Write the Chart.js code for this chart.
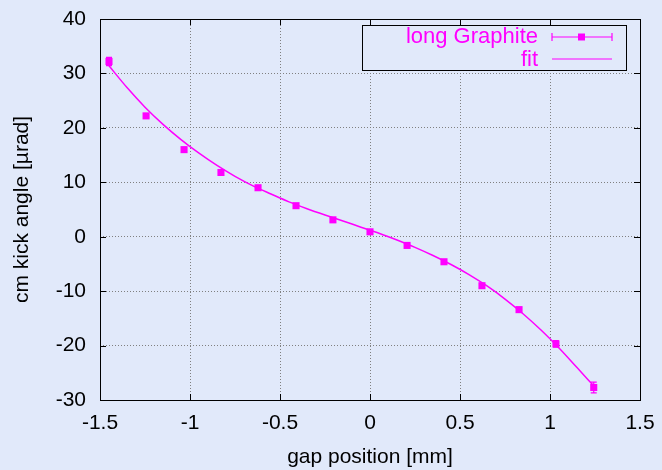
<!DOCTYPE html>
<html>
<head>
<meta charset="utf-8">
<script src="https://cdn.jsdelivr.net/npm/chart.js@4"></script>
<style>
  html, body { margin: 0; padding: 0; background: #e1e9fa; }
  #wrap { width: 662px; height: 470px; }
</style>
</head>
<body>
<div id="wrap"><canvas id="kickChart" width="662" height="470"></canvas></div>
<script>
// measured points: gap position [mm], kick angle [urad], error
const gapPos = [-1.45, -1.244, -1.033, -0.828, -0.622, -0.411, -0.206, 0, 0.206, 0.411, 0.622, 0.828, 1.033, 1.243];
const kickAngle = [32.2, 22.2, 16.0, 11.8, 9.0, 5.7, 3.1, 0.9, -1.6, -4.6, -9.0, -13.4, -19.7, -27.7];
const kickErr = [0.75, 0.3, 0.3, 0.3, 0.3, 0.3, 0.3, 0.3, 0.3, 0.3, 0.3, 0.4, 0.6, 1.0];

// fit curve
const fitX = [-1.45, -1.35, -1.25, -1.15, -1.05, -0.95, -0.85, -0.75, -0.65, -0.55, -0.45, -0.35, -0.25, -0.15, -0.05,
              0.05, 0.15, 0.25, 0.35, 0.45, 0.55, 0.65, 0.75, 0.85, 0.95, 1.05, 1.15, 1.24];
const fitY = [31.4, 27.4, 23.8, 20.65, 17.85, 15.35, 13.1, 11.1, 9.35, 7.85, 6.4, 5.15, 4.0, 2.9, 1.75,
              0.65, -0.6, -1.95, -3.45, -5.1, -6.95, -9.05, -11.45, -14.15, -17.15, -20.45, -24.05, -27.3];

const xTickRange = [-1.5, 1.5, 0.5];
const yTickRange = [-30, 40, 10];

const magenta = '#ff00ff';
const bgColor = '#e1e9fa';
const fontFamily = '"Liberation Sans", Arial, sans-serif';
const fontSize = 21;

// error bars on the measured points
const errorBars = {
    id: 'errorBars',
    afterDatasetsDraw(chart) {
        const ctx = chart.ctx;
        const xs = chart.scales.x, ys = chart.scales.y;
        ctx.save();
        ctx.strokeStyle = magenta;
        ctx.lineWidth = 1.2;
        gapPos.forEach((gx, i) => {
            const px = xs.getPixelForValue(gx);
            const top = ys.getPixelForValue(kickAngle[i] + kickErr[i]);
            const bot = ys.getPixelForValue(kickAngle[i] - kickErr[i]);
            ctx.beginPath();
            ctx.moveTo(px, top); ctx.lineTo(px, bot);
            ctx.moveTo(px - 3, top); ctx.lineTo(px + 3, top);
            ctx.moveTo(px - 3, bot); ctx.lineTo(px + 3, bot);
            ctx.stroke();
        });
        ctx.restore();
    }
};

// border with inward ticks, and the key box
const frameAndKey = {
    id: 'frameAndKey',
    afterDraw(chart) {
        const ctx = chart.ctx;
        const a = chart.chartArea;
        const xs = chart.scales.x, ys = chart.scales.y;
        ctx.save();
        ctx.strokeStyle = '#000';
        ctx.lineWidth = 1;
        ctx.beginPath();
        xs.ticks.forEach(t => {
            const p = Math.round(xs.getPixelForValue(t.value)) + 0.5;
            ctx.moveTo(p, a.bottom); ctx.lineTo(p, a.bottom - 6);
            ctx.moveTo(p, a.top); ctx.lineTo(p, a.top + 6);
        });
        ys.ticks.forEach(t => {
            const p = Math.round(ys.getPixelForValue(t.value)) + 0.5;
            ctx.moveTo(a.left, p); ctx.lineTo(a.left + 6, p);
            ctx.moveTo(a.right, p); ctx.lineTo(a.right - 6, p);
        });
        ctx.stroke();
        ctx.strokeRect(Math.round(a.left) + 0.5, Math.round(a.top) + 0.5,
                       Math.round(a.right - a.left), Math.round(a.bottom - a.top));

        // key
        const bx = 362, by = 25, bw = 264, bh = 45;
        ctx.fillStyle = bgColor;
        ctx.fillRect(bx, by, bw, bh);
        ctx.strokeRect(bx + 0.5, by + 0.5, bw, bh);
        ctx.fillStyle = magenta;
        ctx.font = (fontSize + 1) + 'px ' + fontFamily;
        ctx.textAlign = 'right';
        ctx.textBaseline = 'middle';
        ctx.fillText(chart.data.datasets[0].label, 538, 37);
        ctx.fillText(chart.data.datasets[1].label, 538, 60);
        ctx.strokeStyle = magenta;
        ctx.lineWidth = 1.2;
        ctx.beginPath();
        ctx.moveTo(552, 37); ctx.lineTo(612, 37);
        ctx.moveTo(552, 33); ctx.lineTo(552, 41);
        ctx.moveTo(612, 33); ctx.lineTo(612, 41);
        ctx.moveTo(552, 59); ctx.lineTo(612, 59);
        ctx.stroke();
        ctx.fillRect(578, 33.5, 7, 7);
        ctx.restore();
    }
};

const fmt = v => String(Math.round(v * 10) / 10);

new Chart(document.getElementById('kickChart'), {
    type: 'scatter',
    data: {
        datasets: [{
            label: 'long Graphite',
            data: gapPos.map((x, i) => ({ x: x, y: kickAngle[i] })),
            pointStyle: 'rect',
            pointRadius: 5,
            backgroundColor: magenta,
            borderColor: magenta,
            borderWidth: 0,
            showLine: false,
            order: 1
        }, {
            label: 'fit',
            data: fitX.map((x, i) => ({ x: x, y: fitY[i] })),
            showLine: true,
            pointRadius: 0,
            borderColor: magenta,
            borderWidth: 1.5,
            cubicInterpolationMode: 'monotone',
            order: 2
        }]
    },
    options: {
        responsive: false,
        animation: false,
        layout: { padding: { top: 19, right: 22, left: 0, bottom: 0 } },
        plugins: {
            legend: { display: false },
            tooltip: { enabled: false }
        },
        scales: {
            x: {
                type: 'linear',
                min: xTickRange[0], max: xTickRange[1],
                afterFit: s => { s.height = 70; s.paddingLeft = 0; s.paddingRight = 0; },
                ticks: {
                    stepSize: xTickRange[2],
                    callback: fmt,
                    color: '#000',
                    font: { family: fontFamily, size: fontSize },
                    padding: 11
                },
                grid: { color: '#808080', lineWidth: 1, drawTicks: false, tickLength: 0 },
                border: { display: false, dash: [1, 2] },
                title: {
                    display: true,
                    text: 'gap position [mm]',
                    color: '#000',
                    font: { family: fontFamily, size: fontSize },
                    padding: { top: 4, bottom: 0 }
                }
            },
            y: {
                type: 'linear',
                min: yTickRange[0], max: yTickRange[1],
                afterFit: s => { s.width = 100; s.paddingTop = 0; s.paddingBottom = 0; },
                ticks: {
                    stepSize: yTickRange[2],
                    callback: fmt,
                    color: '#000',
                    font: { family: fontFamily, size: fontSize },
                    padding: 14
                },
                grid: { color: '#808080', lineWidth: 1, drawTicks: false, tickLength: 0 },
                border: { display: false, dash: [1, 2] },
                title: {
                    display: true,
                    text: 'cm kick angle [\u00b5rad]',
                    color: '#000',
                    font: { family: fontFamily, size: fontSize },
                    padding: { top: 10, bottom: 0 }
                }
            }
        }
    },
    plugins: [errorBars, frameAndKey]
});
</script>
</body>
</html>
